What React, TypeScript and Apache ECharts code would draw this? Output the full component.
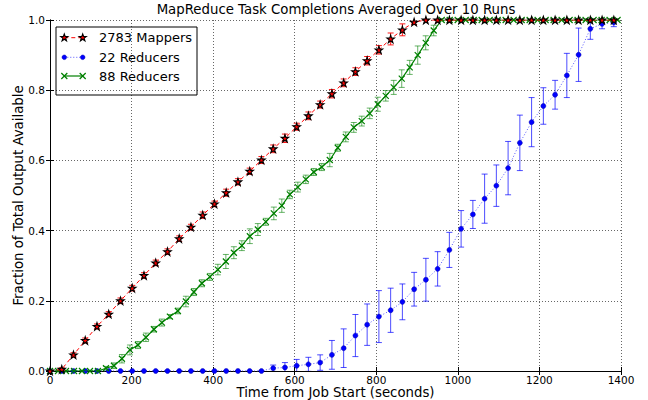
import React, { useEffect, useRef } from "react";
import * as echarts from "echarts";

// ---- data ----
const TIMES_A = [0, 28.8, 57.6, 86.4, 115.2, 144, 172.8, 201.6, 230.4, 259.2, 288, 316.8, 345.6, 374.4, 403.2, 432, 460.8, 489.6, 518.4, 547.2, 576, 604.8, 633.6, 662.4, 691.2, 720, 748.8, 777.6, 806.4, 835.2, 864, 892.8, 921.6, 950.4, 979.2, 1008, 1036.8, 1065.6, 1094.4, 1123.2, 1152, 1180.8, 1209.6, 1238.4, 1267.2, 1296, 1324.8, 1353.6, 1382.4];

const MAPPERS = [0, 0.005, 0.046, 0.087, 0.127, 0.162, 0.2, 0.236, 0.272, 0.308, 0.34, 0.377, 0.41, 0.444, 0.476, 0.508, 0.539, 0.569, 0.601, 0.633, 0.663, 0.696, 0.727, 0.759, 0.79, 0.821, 0.853, 0.884, 0.915, 0.946, 0.972, 0.994, 1, 1, 1, 1, 1, 1, 1, 1, 1, 1, 1, 1, 1, 1, 1, 1, 1];
const MAPPERS_ERR = [0, 0.004, 0.006, 0.007, 0.007, 0.007, 0.008, 0.008, 0.008, 0.008, 0.008, 0.008, 0.008, 0.009, 0.008, 0.01, 0.009, 0.009, 0.01, 0.011, 0.012, 0.01, 0.011, 0.01, 0.012, 0.011, 0.011, 0.012, 0.012, 0.017, 0.017, 0.007, 0, 0, 0, 0, 0, 0, 0, 0, 0, 0, 0, 0, 0, 0, 0, 0, 0];

const RED22 = [0, 0, 0, 0, 0, 0, 0, 0, 0, 0, 0, 0, 0, 0, 0, 0, 0, 0, 0, 0.008, 0.01, 0.015, 0.019, 0.024, 0.046, 0.065, 0.101, 0.132, 0.155, 0.173, 0.197, 0.233, 0.26, 0.291, 0.345, 0.405, 0.446, 0.491, 0.528, 0.578, 0.65, 0.709, 0.755, 0.787, 0.842, 0.901, 0.975, 0.989, 0.993];
const RED22_ERR = [0, 0, 0, 0, 0, 0, 0, 0, 0, 0, 0, 0, 0, 0, 0, 0, 0, 0, 0, 0.009, 0.014, 0.018, 0.02, 0.022, 0.041, 0.055, 0.06, 0.059, 0.074, 0.063, 0.051, 0.048, 0.061, 0.049, 0.05, 0.052, 0.04, 0.07, 0.059, 0.076, 0.079, 0.07, 0.052, 0.041, 0.063, 0.076, 0.03, 0.014, 0.012];

const TIMES_B = [0, 19.6, 39.2, 58.8, 78.4, 98, 117.6, 137.2, 156.8, 176.4, 196, 215.6, 235.2, 254.8, 274.4, 294, 313.6, 333.2, 352.8, 372.4, 392, 411.6, 431.2, 450.8, 470.4, 490, 509.6, 529.2, 548.8, 568.4, 588, 607.6, 627.2, 646.8, 666.4, 686, 705.6, 725.2, 744.8, 764.4, 784, 803.6, 823.2, 842.8, 862.4, 882, 901.6, 921.2, 940.8, 960.4, 980, 999.6, 1019.2, 1038.8, 1058.4, 1078, 1097.6, 1117.2, 1136.8, 1156.4, 1176, 1195.6, 1215.2, 1234.8, 1254.4, 1274, 1293.6, 1313.2, 1332.8, 1352.4, 1372, 1391.6];
const RED88 = [0, 0, 0, 0, 0, 0, 0, 0.008, 0.015, 0.035, 0.06, 0.074, 0.096, 0.119, 0.138, 0.155, 0.171, 0.198, 0.225, 0.25, 0.268, 0.289, 0.312, 0.337, 0.357, 0.384, 0.403, 0.425, 0.449, 0.471, 0.503, 0.524, 0.546, 0.567, 0.581, 0.601, 0.636, 0.667, 0.694, 0.712, 0.734, 0.76, 0.784, 0.808, 0.833, 0.865, 0.9, 0.935, 0.97, 1, 1, 1, 1, 1, 1, 1, 1, 1, 1, 1, 1, 1, 1, 1, 1, 1, 1, 1, 1, 1, 1, 1];
const RED88_ERR = [0, 0, 0, 0, 0, 0, 0, 0.005, 0.008, 0.012, 0.014, 0.01, 0.012, 0.008, 0.01, 0.006, 0.008, 0.015, 0.01, 0.01, 0.01, 0.015, 0.02, 0.017, 0.014, 0.021, 0.017, 0.01, 0.018, 0.019, 0.012, 0.014, 0.012, 0.01, 0.01, 0.019, 0.01, 0.014, 0.014, 0.014, 0.015, 0.02, 0.015, 0.02, 0.025, 0.02, 0.026, 0.02, 0.015, 0, 0, 0, 0, 0, 0, 0, 0, 0, 0, 0, 0, 0, 0, 0, 0, 0, 0, 0, 0, 0, 0, 0];

const LEGEND_LABELS = ["2783 Mappers", "22 Reducers", "88 Reducers"];
const TITLE = "MapReduce Task Completions Averaged Over 10 Runs";
const X_NAME = "Time from Job Start (seconds)";
const Y_NAME = "Fraction of Total Output Available";

const FONT = "DejaVu Sans";
const STAR_PATH = "path://M50,2 L61.2,36.2 L97.6,36.2 L68.2,57.8 L79.4,92 L50,71 L20.6,92 L31.8,57.8 L2.4,36.2 L38.8,36.2 Z";
const X_PATH = "path://M0,0 L10,10 M10,0 L0,10";

function starPoints(cx: number, cy: number, r: number) {
  const pts: number[][] = [];
  for (let k = 0; k < 10; k++) {
    const ang = -Math.PI / 2 + (k * Math.PI) / 5;
    const rr = k % 2 === 0 ? r : r * 0.4;
    pts.push([cx + rr * Math.cos(ang), cy + rr * Math.sin(ang)]);
  }
  return pts;
}

function errData(times: number[], vals: number[], errs: number[]) {
  return times.map((t, i) => [t, vals[i] - errs[i], vals[i] + errs[i]]);
}

function errSeries(data: number[][], color: string, opacity: number, z: number) {
  return {
    type: "custom",
    data,
    clip: true,
    z,
    silent: true,
    encode: { x: 0, y: [1, 2] },
    renderItem: (params: any, api: any) => {
      const x = api.value(0);
      const lo = api.value(1);
      const hi = api.value(2);
      const a = api.coord([x, lo]);
      const b = api.coord([x, hi]);
      const w = 3;
      const style = { stroke: color, lineWidth: 1, opacity };
      return {
        type: "group",
        children: [
          { type: "line", shape: { x1: a[0], y1: a[1], x2: b[0], y2: b[1] }, style },
          { type: "line", shape: { x1: a[0] - w, y1: a[1], x2: a[0] + w, y2: a[1] }, style },
          { type: "line", shape: { x1: b[0] - w, y1: b[1], x2: b[0] + w, y2: b[1] }, style },
        ],
      };
    },
  };
}

export default function App() {
  const ref = useRef<HTMLDivElement>(null);
  useEffect(() => {
    document.body.style.margin = "0";
    if (!ref.current) return;
    const chart = echarts.init(ref.current, undefined, { renderer: "svg" });

    const axisCommon = {
      type: "value",
      axisLine: { show: true, lineStyle: { color: "#000", width: 1 } },
      axisTick: { show: true, inside: true, length: 4, lineStyle: { color: "#000" } },
    };
    const gridLine = { show: true, lineStyle: { color: "#000", type: [1, 2], width: 0.8, opacity: 0.75 } };

    const rows = [37.7, 57.3, 76];
    const m1 = 64.3, m2 = 82.7, tx = 99;
    const starStyle = { fill: "#ff0000", stroke: "#000", lineWidth: 1.1 };
    const legendChildren: any[] = [
      { type: "rect", shape: { x: 56, y: 27, width: 141, height: 68 }, style: { fill: "#fff", stroke: "#000", lineWidth: 1 } },
      // row 1: mappers
      { type: "line", shape: { x1: m1, y1: rows[0], x2: m2, y2: rows[0] }, style: { stroke: "#ff0000", lineWidth: 1, lineDash: [4, 3] } },
      { type: "polygon", shape: { points: starPoints(m1, rows[0], 3.8) }, style: starStyle },
      { type: "polygon", shape: { points: starPoints(m2, rows[0], 3.8) }, style: starStyle },
      // row 2: 22 reducers
      { type: "line", shape: { x1: m1, y1: rows[1], x2: m2, y2: rows[1] }, style: { stroke: "#5555ff", lineWidth: 1, lineDash: [1, 2] } },
      { type: "circle", shape: { cx: m1, cy: rows[1], r: 2.3 }, style: { fill: "#0000ff", stroke: "#0000aa", lineWidth: 0.5 } },
      { type: "circle", shape: { cx: m2, cy: rows[1], r: 2.3 }, style: { fill: "#0000ff", stroke: "#0000aa", lineWidth: 0.5 } },
      // row 3: 88 reducers
      { type: "line", shape: { x1: m1, y1: rows[2], x2: m2, y2: rows[2] }, style: { stroke: "#008000", lineWidth: 1.2 } },
    ];
    [m1, m2].forEach((cx) => {
      legendChildren.push({ type: "line", shape: { x1: cx - 3, y1: rows[2] - 3, x2: cx + 3, y2: rows[2] + 3 }, style: { stroke: "#008000", lineWidth: 1.2 } });
      legendChildren.push({ type: "line", shape: { x1: cx - 3, y1: rows[2] + 3, x2: cx + 3, y2: rows[2] - 3 }, style: { stroke: "#008000", lineWidth: 1.2 } });
    });
    LEGEND_LABELS.forEach((lab, i) => {
      legendChildren.push({
        type: "text",
        style: { text: lab, x: tx, y: rows[i], fill: "#000", font: `13px "${FONT}"`, verticalAlign: "middle", align: "left" },
      });
    });

    const axisNames: any[] = [
      {
        type: "text",
        x: 335.5,
        y: 392.5,
        style: { text: X_NAME, fill: "#000", font: `13.3px "${FONT}"`, align: "center", verticalAlign: "middle" },
      },
      {
        type: "text",
        x: 18,
        y: 195.5,
        rotation: Math.PI / 2,
        style: { text: Y_NAME, fill: "#000", font: `13.3px "${FONT}"`, align: "center", verticalAlign: "middle" },
      },
    ];

    const option: any = {
      animation: false,
      backgroundColor: "#fff",
      textStyle: { fontFamily: FONT },
      title: {
        text: TITLE,
        left: 336,
        top: 3,
        padding: 0,
        textAlign: "center",
        textStyle: { fontSize: 13.3, fontWeight: "normal", color: "#000", fontFamily: FONT },
      },
      grid: { left: 50, right: 27, top: 20, bottom: 29, show: false, containLabel: false, outerBoundsMode: "none" },
      xAxis: [
        {
          ...axisCommon,
          position: "bottom",
          min: 0,
          max: 1400,
          interval: 200,
          axisLabel: { color: "#000", fontSize: 10.5, margin: 3, fontFamily: FONT, formatter: (v: number) => String(v) },
          splitLine: gridLine,
        },
        {
          ...axisCommon,
          position: "top",
          min: 0,
          max: 1400,
          interval: 200,
          axisLabel: { show: false },
          splitLine: { show: false },
        },
      ],
      yAxis: [
        {
          ...axisCommon,
          position: "left",
          min: 0,
          max: 1,
          interval: 0.2,
          axisLabel: { color: "#000", fontSize: 10.5, margin: 5, fontFamily: FONT, formatter: (v: number) => v.toFixed(1) },
          splitLine: gridLine,
        },
        {
          ...axisCommon,
          position: "right",
          min: 0,
          max: 1,
          interval: 0.2,
          axisLabel: { show: false },
          splitLine: { show: false },
        },
      ],
      series: [
        errSeries(errData(TIMES_A, RED22, RED22_ERR), "#0000ff", 0.7, 2),
        {
          type: "line",
          name: LEGEND_LABELS[1],
          data: TIMES_A.map((t, i) => [t, RED22[i]]),
          z: 3,
          symbol: "circle",
          symbolSize: 5,
          lineStyle: { color: "#5555ff", width: 1, type: [1, 2] },
          itemStyle: { color: "#0000ff", borderColor: "#0000aa", borderWidth: 0.5 },
        },
        errSeries(errData(TIMES_B, RED88, RED88_ERR), "#008000", 0.6, 4),
        {
          type: "line",
          name: LEGEND_LABELS[2],
          data: TIMES_B.map((t, i) => [t, RED88[i]]),
          z: 5,
          symbol: X_PATH,
          symbolSize: 6,
          lineStyle: { color: "#008000", width: 1.2, type: "solid" },
          itemStyle: { color: "#008000", borderColor: "#008000", borderWidth: 1.2 },
        },
        errSeries(errData(TIMES_A, MAPPERS, MAPPERS_ERR), "#ff0000", 0.9, 6),
        {
          type: "line",
          name: LEGEND_LABELS[0],
          data: TIMES_A.map((t, i) => [t, MAPPERS[i]]),
          z: 7,
          symbol: STAR_PATH,
          symbolSize: 7.5,
          lineStyle: { color: "#ff0000", width: 1, type: [4, 3] },
          itemStyle: { color: "#ff0000", borderColor: "#000", borderWidth: 1.1 },
        },
      ],
      graphic: [
        { type: "group", z: 100, children: legendChildren },
        { type: "group", z: 100, children: axisNames },
      ],
    };
    chart.setOption(option);
    return () => chart.dispose();
  }, []);
  return <div ref={ref} style={{ width: 648, height: 400 }} />;
}
